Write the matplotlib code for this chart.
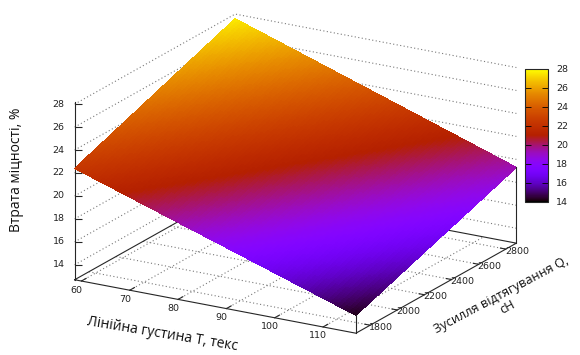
import numpy as np
import matplotlib
matplotlib.use("Agg")
import matplotlib.pyplot as plt
from matplotlib.colors import ListedColormap, Normalize
from matplotlib import cm
from mpl_toolkits.mplot3d import proj3d

# Axis extents: linear density T (tex) and drafting force Q (cN)
T_RANGE = [58.6, 116.8]
Q_RANGE = [1695, 2878]
# Strength loss (%) at the corners of the (T, Q) domain
LOSS_CORNERS = [[22.4, 27.6],     # T = 58.6  -> Q = 1695, 2878
                [14.25, 19.3]]    # T = 116.8 -> Q = 1695, 2878
Z_BASE, Z_TOP = 12.7, 28.2

T_TICKS = [60, 70, 80, 90, 100, 110]
Q_TICKS = [1800, 2000, 2200, 2400, 2600, 2800]
Z_TICKS = [14, 16, 18, 20, 22, 24, 26, 28]
CB_RANGE = [14, 28]

# gnuplot's default pm3d palette (rgbformulae 7,5,15)
s = np.linspace(0, 1, 256)
pm3d = ListedColormap(np.column_stack([np.sqrt(s), s ** 3,
                                       np.clip(np.sin(2 * np.pi * s), 0, 1)]))
norm = Normalize(*CB_RANGE)

W, H = 580, 355
fig = plt.figure(figsize=(W / 100, H / 100), dpi=100, facecolor="white")

# big square 3d axes (larger than the figure so nothing gets clipped)
side = 600
ax = fig.add_axes([-12.6 / W, -125.6 / H, side / W, side / H], projection="3d")
ax.set_proj_type("ortho")
ax.view_init(elev=19.06, azim=-59.8)
ax.set_box_aspect((1.02, 1, 0.59), zoom=0.7978)
ax.set_xlim(*T_RANGE)
ax.set_ylim(*Q_RANGE)
ax.set_zlim(Z_BASE, Z_TOP)
ax.set_xticks([])
ax.set_yticks([])
ax.set_zticks([])
ax.set_axis_off()
ax.computed_zorder = False

t0, t1 = T_RANGE
q0, q1 = Q_RANGE
c = np.array(LOSS_CORNERS)

# dotted grid on the base and the two back walls
grid_kw = dict(color="#7a7a7a", lw=0.8, ls=(0, (1, 2.2)), zorder=1)
for t in T_TICKS:
    ax.plot([t, t], [q0, q1], [Z_BASE] * 2, **grid_kw)
for q in Q_TICKS:
    ax.plot([t0, t1], [q, q], [Z_BASE] * 2, **grid_kw)
for z in Z_TICKS:
    ax.plot([t0, t0, t1], [q0, q1, q1], [z] * 3, **grid_kw)

# base frame, z axis and tic marks
edge_kw = dict(color="#262626", lw=0.8, zorder=2)
ax.plot([t0, t1, t1, t0, t0], [q0, q0, q1, q1, q0], [Z_BASE] * 5, **edge_kw)
ax.plot([t0, t0], [q0, q0], [Z_BASE, Z_TOP], **edge_kw)
for t in T_TICKS:
    ax.plot([t, t], [q0, q0 + 35], [Z_BASE] * 2, **edge_kw)
for q in Q_TICKS:
    ax.plot([t1, t1 - 1.1], [q, q], [Z_BASE] * 2, **edge_kw)
ax.plot([t0] * len(Z_TICKS), [q0] * len(Z_TICKS), Z_TICKS, ls="none",
        marker=1, ms=5, mew=0.8, color="#262626", zorder=2)

# surface, colour by height (pm3d-like interpolation between corners)
n = 90
u = np.linspace(0, 1, n)
uu, vv = np.meshgrid(u, u, indexing="ij")
TT = t0 + (t1 - t0) * uu
QQ = q0 + (q1 - q0) * vv
ZZ = (c[0, 0] * (1 - uu) * (1 - vv) + c[0, 1] * (1 - uu) * vv
      + c[1, 0] * uu * (1 - vv) + c[1, 1] * uu * vv)
ax.plot_surface(TT, QQ, ZZ, cmap=pm3d, norm=norm, rstride=1, cstride=1,
                linewidth=0, antialiased=False, shade=False, zorder=3)

# corner posts from the base up to the surface
ax.plot([t1, t1], [q0, q0], [Z_BASE, c[1, 0]], **{**edge_kw, "zorder": 4})
ax.plot([t1, t1], [q1, q1], [Z_BASE, c[1, 1]], **{**edge_kw, "zorder": 4})

# tic labels: project the tic positions and put flat text next to them
fig.canvas.draw()


def at(x, y, z, dx=0, dy=0):
    px, py, _ = proj3d.proj_transform(x, y, z, ax.M)
    sx, sy = ax.transData.transform((px, py))
    return (sx + dx) / W, (sy + dy) / H


tick_font = dict(family="DejaVu Sans", size=6.8, color="#222222")
for z in Z_TICKS:
    fig.text(*at(t0, q0, z, -10, 0), str(z), ha="right", va="center", **tick_font)
for t in T_TICKS:
    fig.text(*at(t, q0, Z_BASE, -5, -9), str(t), ha="center", va="center",
             **tick_font)
for q in Q_TICKS:
    fig.text(*at(t1, q, Z_BASE, -1, -2), str(q), ha="left", va="center",
             **tick_font)

# axis titles
label_font = dict(family=["Open Sans", "DejaVu Sans"], color="#111111")
fig.text(17 / W, 1 - 170 / H, "Втрата міцності, %", rotation=90, size=10,
         ha="center", va="center", **label_font)
fig.text(162 / W, 1 - 334 / H, "Лінійна густина T, текс", rotation=-9.5,
         size=10, ha="center", va="center", rotation_mode="anchor",
         **label_font)
fig.text(504 / W, 1 - 301 / H, "Зусилля відтягування Q,\nсН", rotation=28,
         size=9.2, ha="center", va="center", rotation_mode="anchor",
         multialignment="center", linespacing=1.05, **label_font)

# colour box
cax = fig.add_axes([525 / W, 1 - 201.7 / H, 23 / W, 132.7 / H])
cb = fig.colorbar(cm.ScalarMappable(norm=norm, cmap=pm3d), cax=cax, ticks=Z_TICKS)
cb.outline.set_linewidth(0.8)
cb.outline.set_edgecolor("#262626")
cax.tick_params(direction="in", length=4, width=0.6, left=True, right=True,
                pad=6, labelsize=6.8, labelcolor="#222222")
for lbl in cax.get_yticklabels():
    lbl.set_family("DejaVu Sans")

fig.savefig("out.png", dpi=100, facecolor="white")
